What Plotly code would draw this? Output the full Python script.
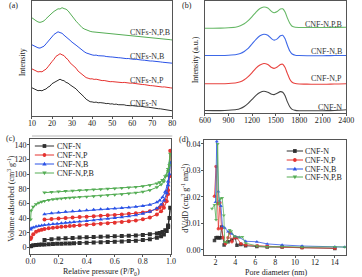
import plotly.graph_objects as go

W, H = 362, 277
FONT = "Liberation Serif"

def px(x):
    return x / W

def py(y):
    return 1 - y / H

# ---------------- data ----------------
SERIES_A = ["CNFs-N", "CNFs-N,P", "CNFs-N,B", "CNFs-N,P,B"]
SERIES = ["CNF-N", "CNF-N,P", "CNF-N,B", "CNF-N,P,B"]
COLORS = ["#2e2e2e", "#e5322f", "#2a52e6", "#55ad55"]

# (a) XRD, 2theta 10..80 (offset intensities)
xrd_x = list(range(10, 81))
xrd_n = [28.2, 27.1, 26.4, 25.3, 25.6, 25.2, 26.3, 27.0, 28.8, 29.9, 32.3, 33.4, 35.2, 35.9, 36.8, 35.7,
         35.3, 33.6, 32.9, 31.2, 30.1, 28.2, 27.1, 24.8, 23.2, 20.7, 19.1, 16.8, 15.6, 14.3, 14.1,
         13.6, 13.9, 13.2, 13.4, 12.8, 12.9, 12.4, 12.6, 12.0, 12.2,
         11.6, 11.9, 11.3, 11.5, 11.0, 11.2, 10.6, 10.8, 10.3, 10.4,
         10.0, 10.2, 9.7, 9.8, 9.3, 9.4, 8.9, 8.8, 8.4, 8.3,
         7.9, 7.8, 7.3, 7.2, 6.8, 6.7, 6.2, 6.0, 5.6, 5.2]
xrd_np = [47.1, 46.2, 45.3, 44.1, 44.4, 44.2, 45.6, 46.8, 49.2, 51.3, 54.4, 56.8, 59.7, 60.9, 62.3, 61.2,
          60.4, 57.9, 56.3, 53.2, 51.4, 49.3, 47.8, 44.9, 43.2, 41.1, 39.6, 38.4, 37.8, 37.1, 37.2,
          36.6, 36.8, 36.1, 36.0, 35.4, 35.5, 34.9, 35.0, 34.3, 34.4,
          34.1, 34.3, 33.8, 33.9, 33.4, 33.6, 33.1, 33.2, 32.8, 32.9,
          32.5, 32.4, 31.9, 32.0, 31.5, 31.4, 30.9, 30.8, 30.4, 30.3,
          29.9, 30.0, 29.5, 29.4, 29.0, 29.1, 28.6, 28.5, 28.2, 27.9]
xrd_nb = [71.2, 70.1, 69.3, 68.2, 67.9, 68.6, 69.8, 72.1, 74.4, 77.2, 79.3, 81.6, 82.9, 84.2, 83.4, 82.7,
          80.8, 79.3, 76.9, 75.7, 73.8, 72.7, 70.8, 69.2, 67.3, 66.2, 64.4, 63.1, 62.2, 61.4, 61.1,
          60.7, 60.9, 60.3, 60.4, 59.9, 60.0, 59.5, 59.6, 59.1, 59.0,
          58.6, 58.8, 58.3, 58.2, 57.8, 57.9, 57.4, 57.5, 57.1, 57.0,
          56.6, 56.7, 56.2, 56.3, 55.9, 55.8, 55.4, 55.5, 55.0, 55.0,
          54.6, 54.7, 54.2, 54.1, 53.8, 53.7, 53.3, 53.4, 53.0, 52.8]
xrd_npb = [98.2, 96.4, 95.3, 94.1, 93.6, 94.2, 95.1, 97.2, 98.8, 101.2, 102.9, 104.6, 105.8, 107.2, 107.0, 108.3,
           107.4, 106.8, 105.2, 102.4, 99.1, 97.3, 94.8, 92.7, 90.2, 88.4, 87.1, 86.2, 85.1, 84.7, 84.2,
           84.0, 84.3, 83.7, 83.8, 83.3, 83.5, 83.0, 83.1, 82.7, 82.8,
           82.3, 82.4, 81.9, 81.8, 81.4, 81.5, 81.0, 80.9, 80.5, 80.4,
           80.0, 80.1, 79.7, 79.6, 79.2, 79.3, 78.9, 78.8, 78.4, 78.3,
           78.0, 78.1, 77.6, 77.5, 77.1, 77.2, 76.8, 76.6, 76.3, 76.0]
xrd_label_y = [13, 36, 60, 84]

# (b) Raman
raman_x = [600, 700, 800, 900, 1000, 1050, 1100, 1150, 1200, 1250, 1300, 1350, 1400, 1450, 1480,
           1520, 1560, 1590, 1620, 1650, 1680, 1710, 1750, 1800, 1900, 2000, 2100, 2200, 2300, 2400]
raman_n = [2.5, 2.4, 2.4, 2.7, 3.4, 4.5, 6.5, 9.5, 13.5, 17.5, 20.3, 21.5, 20.5, 18.6, 18.2,
           19.6, 21.2, 20.6, 17.0, 11.0, 6.2, 3.6, 2.6, 2.3, 2.2, 2.2, 2.3, 2.4, 2.7, 3.2]
raman_np = [29.0, 29.0, 29.0, 29.3, 30.0, 31.0, 33.0, 36.0, 40.0, 44.5, 47.5, 49.0, 48.0, 45.0, 44.2,
            45.5, 48.0, 48.3, 45.0, 39.0, 33.5, 30.5, 29.2, 28.8, 28.6, 28.5, 28.5, 28.6, 28.8, 29.0]
raman_nb = [57.0, 57.0, 57.0, 57.3, 58.0, 59.0, 61.0, 64.0, 68.5, 73.0, 76.5, 78.0, 77.0, 73.5, 72.2,
            73.5, 76.5, 77.0, 73.5, 67.0, 61.5, 58.5, 57.3, 57.0, 56.8, 56.8, 56.8, 56.9, 57.0, 57.0]
raman_npb = [84.0, 84.0, 84.1, 84.5, 85.3, 86.5, 88.5, 91.5, 95.5, 100.0, 103.5, 105.0, 104.0, 100.5, 99.3,
             100.5, 103.0, 103.2, 100.0, 94.0, 89.0, 86.0, 85.0, 84.8, 84.7, 84.7, 84.7, 84.8, 84.9, 85.0]
raman_label_y = [5, 34, 61, 88]

# (c) N2 isotherms: adsorption (rising P) then desorption (falling P)
p_ads = [0.001, 0.005, 0.02, 0.04, 0.06, 0.08, 0.1, 0.13, 0.16, 0.19, 0.22, 0.25, 0.28, 0.31, 0.35,
         0.4, 0.45, 0.5, 0.55, 0.6, 0.65, 0.7, 0.75, 0.8, 0.85, 0.9, 0.93, 0.95, 0.97, 0.98, 0.99, 0.995]
p_des = [0.98, 0.96, 0.94, 0.92, 0.9, 0.85, 0.8, 0.75, 0.7, 0.65, 0.6, 0.55, 0.5, 0.45, 0.4, 0.35,
         0.3, 0.25, 0.2, 0.15, 0.1]
ads_n = [1.6, 2.0, 2.8, 3.2, 3.5, 3.8, 4.0, 4.3, 4.6, 4.9, 5.1, 5.3, 5.5, 5.7, 6.0,
         6.3, 6.6, 7.0, 7.3, 7.7, 8.1, 8.6, 9.2, 10.0, 11.2, 13.2, 15.3, 17.5, 22.5, 28.0, 40.0, 54.0]
des_n = [30.0, 23.5, 21.2, 19.8, 19.0, 17.8, 17.0, 16.4, 15.9, 15.5, 15.1, 14.8, 14.5, 14.1, 13.8, 13.4,
         13.0, 12.6, 12.0, 11.3, 10.2]
ads_np = [11.5, 13.6, 18.0, 21.5, 23.0, 24.2, 25.0, 26.0, 26.8, 27.5, 28.1, 28.6, 29.1, 29.6, 30.2,
          30.9, 31.6, 32.3, 33.0, 33.8, 34.6, 35.6, 36.8, 38.4, 40.8, 45.0, 49.5, 54.0, 63.0, 73.0, 97.0, 132.0]
des_np = [78.0, 64.0, 58.0, 54.5, 52.5, 49.5, 47.8, 46.7, 45.8, 45.0, 44.4, 43.8, 43.2, 42.6, 42.0, 41.4,
          40.8, 40.2, 39.6, 38.9, 38.0]
ads_nb = [24.5, 26.0, 27.3, 28.4, 29.2, 29.9, 30.5, 31.2, 31.8, 32.4, 33.0, 33.5, 34.0, 34.6, 35.3,
          36.2, 37.1, 38.0, 39.0, 40.0, 41.2, 42.5, 44.0, 46.0, 48.8, 53.5, 58.5, 64.0, 74.0, 85.0, 100.0, 116.0]
des_nb = [90.0, 76.0, 68.5, 64.0, 61.5, 58.3, 56.6, 55.5, 54.6, 53.9, 53.2, 52.6, 52.0, 51.4, 50.8, 50.2,
          49.5, 48.6, 47.7, 46.6, 45.3]
ads_npb = [38.0, 50.5, 55.5, 59.0, 61.0, 62.4, 63.5, 64.7, 65.6, 66.3, 66.9, 67.4, 67.8, 68.2, 68.7,
           69.3, 69.9, 70.5, 71.1, 71.8, 72.6, 73.5, 74.6, 76.0, 78.2, 82.0, 86.0, 90.0, 98.0, 104.0, 112.0, 128.0]
des_npb = [107.0, 97.0, 92.0, 89.0, 87.3, 85.0, 83.6, 82.6, 81.8, 81.1, 80.5, 80.0, 79.5, 79.0, 78.5, 78.0,
           77.5, 77.0, 76.4, 75.7, 74.8]

# (d) pore size distribution
d_n = [1.9, 2.05, 2.2, 2.35, 2.5, 2.61, 2.87, 3.26, 3.65, 3.97, 4.16, 4.55, 5.03, 6.16, 7.2, 8.7, 10.7, 14.0]
v_n = [0.0035, 0.0045, 0.0046, 0.0044, 0.0045, 0.0086, 0.0018, 0.0030, 0.0037, 0.0046, 0.0017, 0.0020,
       0.0015, 0.0012, 0.0010, 0.0010, 0.0008, 0.0005]
d_np = [1.9, 2.06, 2.22, 2.29, 2.45, 2.61, 2.77, 3.0, 3.26, 3.42, 3.65, 3.9, 4.16, 4.55, 5.03, 6.2, 7.2,
        8.7, 10.7, 14.0]
v_np = [0.0202, 0.0315, 0.0175, 0.0079, 0.0178, 0.0080, 0.0045, 0.0023, 0.0045, 0.0065, 0.0030, 0.0045,
        0.0045, 0.0023, 0.0018, 0.0015, 0.0012, 0.0010, 0.0007, 0.0006]
d_nb = [2.0, 2.13, 2.29, 2.39, 2.55, 2.7, 2.93, 3.26, 3.65, 3.97, 4.39, 5.03, 6.16, 7.2, 8.7, 10.7, 14.0, 15.0]
v_nb = [0.0180, 0.0410, 0.0220, 0.0185, 0.0165, 0.0088, 0.0083, 0.0068, 0.0060, 0.0050, 0.0047, 0.0032,
        0.0030, 0.0022, 0.0018, 0.0014, 0.0011, 0.0010]
d_npb = [1.65, 1.9, 2.06, 2.22, 2.35, 2.51, 2.67, 2.84, 2.93, 3.16, 3.42, 3.58, 3.9, 4.39, 4.7, 5.03, 6.16,
         7.2, 8.7, 10.7, 14.0, 15.0]
v_npb = [0.0155, 0.0170, 0.0113, 0.0400, 0.0172, 0.0194, 0.0196, 0.0130, 0.0030, 0.0027, 0.0075, 0.0070,
         0.0050, 0.0047, 0.0049, 0.0025, 0.0014, 0.0011, 0.0012, 0.0010, 0.0011, 0.0010]

# ---------------- figure ----------------
fig = go.Figure()

# (a)
for name, ys, col, ly in zip(SERIES_A, [xrd_n, xrd_np, xrd_nb, xrd_npb], COLORS, xrd_label_y):
    fig.add_trace(go.Scatter(x=xrd_x, y=ys, mode="lines", line=dict(color=col, width=1),
                             xaxis="x", yaxis="y", showlegend=False))
    fig.add_annotation(x=58.0, y=ly, xref="x", yref="y", text=name, showarrow=False,
                       xanchor="left", yanchor="middle", font=dict(family=FONT, size=8, color="#333"))

# (b)
RAMAN_COLORS = ["#444444", "#e8433f", "#3d68e8", "#66b866"]
for name, ys, col, ly in zip(SERIES, [raman_n, raman_np, raman_nb, raman_npb], RAMAN_COLORS, raman_label_y):
    fig.add_trace(go.Scatter(x=raman_x, y=ys, mode="lines", line=dict(color=col, width=1.1, shape="spline", smoothing=0.6),
                             xaxis="x2", yaxis="y2", showlegend=False))
    fig.add_annotation(x=2365, y=ly, xref="x2", yref="y2", text=name, showarrow=False,
                       xanchor="right", yanchor="middle", font=dict(family=FONT, size=8, color="#333"))

# (c)
SYMBOLS = ["square", "circle", "triangle-up", "triangle-down"]
for name, a, d, col, sym in zip(SERIES, [ads_n, ads_np, ads_nb, ads_npb], [des_n, des_np, des_nb, des_npb],
                                COLORS, SYMBOLS):
    fig.add_trace(go.Scatter(x=p_ads + p_des, y=a + d, mode="lines+markers",
                             line=dict(color=col, width=1),
                             marker=dict(symbol=sym, size=4, color=col),
                             xaxis="x3", yaxis="y3", showlegend=False))

# (d)
D_COLORS = ["rgba(40,40,40,0.85)", "rgba(229,50,47,0.85)", "rgba(42,82,230,0.85)", "rgba(85,173,85,0.85)"]
for name, xs, ys, col, sym in zip(SERIES, [d_n, d_np, d_nb, d_npb], [v_n, v_np, v_nb, v_npb], D_COLORS, SYMBOLS):
    fig.add_trace(go.Scatter(x=xs, y=ys, mode="lines+markers",
                             line=dict(color=col, width=0.9),
                             marker=dict(symbol=sym, size=3.5, color=col),
                             xaxis="x4", yaxis="y4", showlegend=False))

# manual legends for (c) and (d)
shapes = []
def legend(x0, x1, xt, ys, cols):
    for name, yy, col, sym in zip(SERIES, ys, cols, SYMBOLS):
        shapes.append(dict(type="line", xref="paper", yref="paper", x0=px(x0), x1=px(x1),
                           y0=py(yy), y1=py(yy), line=dict(color=col, width=1)))
        cx, cy, r = (x0 + x1) / 2, yy, 1.9
        if sym == "square":
            shapes.append(dict(type="rect", xref="paper", yref="paper", x0=px(cx - r), x1=px(cx + r),
                               y0=py(cy + r), y1=py(cy - r), fillcolor=col, line=dict(width=0)))
        elif sym == "circle":
            shapes.append(dict(type="circle", xref="paper", yref="paper", x0=px(cx - r), x1=px(cx + r),
                               y0=py(cy + r), y1=py(cy - r), fillcolor=col, line=dict(width=0)))
        else:
            s = 1 if sym == "triangle-up" else -1
            path = "M {} {} L {} {} L {} {} Z".format(px(cx - 2.3), py(cy + 1.6 * s), px(cx + 2.3), py(cy + 1.6 * s),
                                                      px(cx), py(cy - 2.2 * s))
            shapes.append(dict(type="path", xref="paper", yref="paper", path=path, fillcolor=col, line=dict(width=0)))
        fig.add_annotation(x=px(xt), y=py(yy), xref="paper", yref="paper", text=name, showarrow=False,
                           xanchor="left", yanchor="middle", font=dict(family=FONT, size=8, color="#222"))

legend(30, 50, 51, [146, 155, 164, 173], COLORS)
legend(292, 309, 309, [151, 160, 169, 177], COLORS)

shapes.append(dict(type="line", xref="paper", yref="paper", x0=px(27), x1=px(173), y0=py(136), y1=py(136),
                   line=dict(color="#b5b5b5", width=1)))

# panel letters and axis titles
def note(text, x, y, angle=0, size=8, anchor="center"):
    fig.add_annotation(x=px(x), y=py(y), xref="paper", yref="paper", text=text, showarrow=False,
                       textangle=angle, xanchor=anchor, yanchor="middle",
                       font=dict(family=FONT, size=size, color="#222"))

note("(a)", 1, 6, anchor="left")
note("(b)", 181, 6, anchor="left")
note("(c)", -2, 138, anchor="left")
note("(d)", 178, 139, anchor="left")
note("Intensity", 18, 62, angle=-90)
note("Intensity (a.u.)", 198, 60, angle=-90)
note("Volume adsorbed (cm<sup>3</sup> g<sup>-1</sup>)", 5, 198, angle=-90)
note("dV/dD (cm<sup>3</sup> g<sup>-1</sup> nm<sup>-1</sup>)", 186, 198, angle=-90)
note("Relative pressure (P/P<sub>0</sub>)", 99, 272)
note("Pore diameter (nm)", 281, 272)

tickfont = dict(family=FONT, size=8, color="#222")
common = dict(showline=True, linecolor="#555", linewidth=0.8, mirror=True, showgrid=False, zeroline=False,
              ticks="outside", ticklen=2, tickwidth=0.8, tickcolor="#555", tickfont=tickfont)
noticks = {k: v for k, v in common.items() if k != "ticks"}
xstand = dict(ticklabelstandoff=-3)
ystand = dict(ticklabelstandoff=-1)

fig.update_layout(
    width=W, height=H, margin=dict(l=0, r=0, t=0, b=0),
    paper_bgcolor="white", plot_bgcolor="white", showlegend=False,
    font=dict(family=FONT, size=8, color="#222"),
    shapes=shapes,
    xaxis=dict(domain=[px(27), px(173)], range=[10, 80], dtick=10, anchor="y", **common, **xstand),
    yaxis=dict(domain=[py(116), py(1)], range=[0, 115], showticklabels=False, anchor="x", ticks="", **noticks),
    xaxis2=dict(domain=[px(207), px(354)], range=[600, 2400], dtick=300, anchor="y2", **common, **xstand),
    yaxis2=dict(domain=[py(113), py(1)], range=[0, 111], showticklabels=False, anchor="x2", ticks="", **noticks),
    xaxis3=dict(domain=[px(25), px(172)], range=[-0.003, 1.003], dtick=0.2, tickformat=".1f", anchor="y3",
                **common, **xstand),
    yaxis3=dict(domain=[py(254), py(139)], range=[-9, 148], dtick=20, anchor="x3", **common, **ystand),
    xaxis4=dict(domain=[px(206), px(354)], range=[0.85, 15.15], tickvals=[2, 4, 6, 8, 10, 12, 14], anchor="y4",
                **common, **xstand),
    yaxis4=dict(domain=[py(255), py(140)], range=[-0.002, 0.0415], dtick=0.01, tickformat=".2f", anchor="x4",
                **common, **ystand),
)

fig.write_html("out.html", config={"displayModeBar": False},
               post_script="document.body.style.margin='0';document.body.style.overflow='hidden';")
